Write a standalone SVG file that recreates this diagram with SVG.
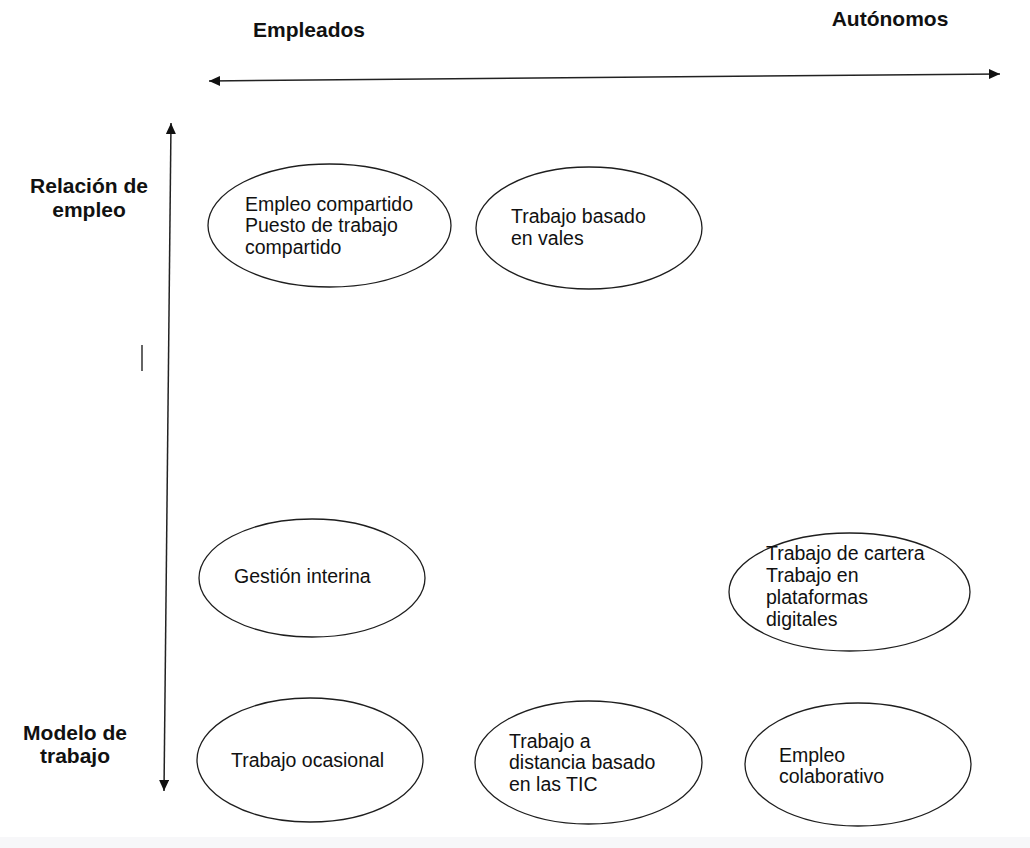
<svg xmlns="http://www.w3.org/2000/svg" width="1030" height="848" viewBox="0 0 1030 848">
<style>
.bg{fill:#ffffff}
.node ellipse{fill:none;stroke:#1e1e1e;stroke-width:1.3}
.lbl{font-family:"Liberation Sans",Arial,sans-serif;font-size:19.5px;fill:#111}
.hdr{font-family:"Liberation Sans",Arial,sans-serif;font-size:21px;font-weight:bold;fill:#111}
.axis{stroke:#222;stroke-width:1.5;fill:none}
</style>
<defs>
<marker id="ah" markerUnits="userSpaceOnUse" markerWidth="12" markerHeight="11" refX="11" refY="5" orient="auto-start-reverse">
<path d="M0,0 L11,5 L0,10 z" fill="#111"/>
</marker>
</defs>
<rect class="bg" x="0" y="0" width="1030" height="848"/>
<rect x="0" y="837" width="1030" height="11" fill="#f7f7f9"/>

<g id="headers">
<text class="hdr" x="309" y="37" text-anchor="middle">Empleados</text>
<text class="hdr" x="890" y="26" text-anchor="middle">Autónomos</text>
<text class="hdr" x="89" y="193" text-anchor="middle">Relación de</text>
<text class="hdr" x="89" y="217" text-anchor="middle">empleo</text>
<text class="hdr" x="75" y="740" text-anchor="middle">Modelo de</text>
<text class="hdr" x="75" y="763" text-anchor="middle">trabajo</text>
</g>

<g id="connectors">
<path class="axis" d="M209,81 L1000,74" marker-start="url(#ah)" marker-end="url(#ah)"/>
<path class="axis" d="M171,123 L164,791" marker-start="url(#ah)" marker-end="url(#ah)"/>
<line x1="142" y1="345" x2="142" y2="371" stroke="#111" stroke-width="1.3"/>
</g>

<g id="n-empleo-compartido" class="node">
<ellipse cx="329.5" cy="225.5" rx="121.5" ry="61.5"/>
<text class="lbl" x="245" y="211">Empleo compartido</text>
<text class="lbl" x="245" y="232">Puesto de trabajo</text>
<text class="lbl" x="245" y="254">compartido</text>
</g>

<g id="n-vales" class="node">
<ellipse cx="589" cy="228" rx="113" ry="61"/>
<text class="lbl" x="511" y="223">Trabajo basado</text>
<text class="lbl" x="511" y="245">en vales</text>
</g>

<g id="n-gestion" class="node">
<ellipse cx="312" cy="578" rx="113" ry="59"/>
<text class="lbl" x="234" y="583">Gestión interina</text>
</g>

<g id="n-cartera" class="node">
<ellipse cx="849.5" cy="592" rx="120.5" ry="59"/>
<text class="lbl" x="766" y="560">Trabajo de cartera</text>
<text class="lbl" x="766" y="582">Trabajo en</text>
<text class="lbl" x="766" y="604">plataformas</text>
<text class="lbl" x="766" y="626">digitales</text>
</g>

<g id="n-ocasional" class="node">
<ellipse cx="310" cy="760" rx="113" ry="62"/>
<text class="lbl" x="231" y="767">Trabajo ocasional</text>
</g>

<g id="n-distancia" class="node">
<ellipse cx="588.5" cy="762.5" rx="113.5" ry="61.5"/>
<text class="lbl" x="509" y="748">Trabajo a</text>
<text class="lbl" x="509" y="769">distancia basado</text>
<text class="lbl" x="509" y="791">en las TIC</text>
</g>

<g id="n-colaborativo" class="node">
<ellipse cx="858" cy="764.5" rx="113" ry="61.5"/>
<text class="lbl" x="779" y="762">Empleo</text>
<text class="lbl" x="779" y="783">colaborativo</text>
</g>
</svg>
